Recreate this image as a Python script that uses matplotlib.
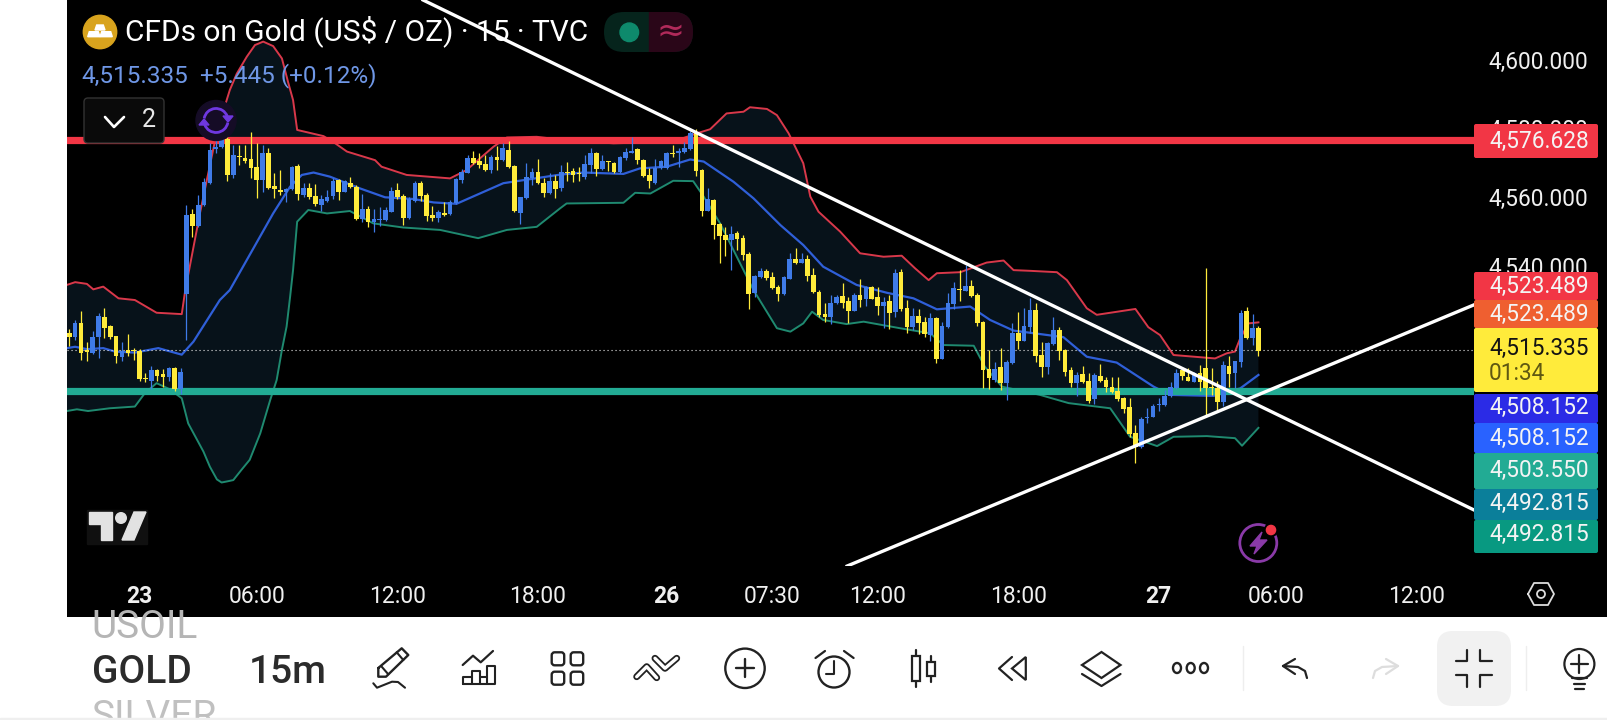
import numpy as np
import matplotlib
matplotlib.use("Agg")
import matplotlib.pyplot as plt
from matplotlib.patches import Rectangle, FancyBboxPatch, Circle, Polygon, Arc, Ellipse

plt.rcParams["font.family"] = ["Roboto", "DejaVu Sans"]

# 15m candles, oldest first
opens = [
    4520.3, 4519.1, 4523.2, 4515.5, 4514.5, 4519.1, 4525.0, 4522.3, 4519.4, 4513.5,
    4515.5, 4515.4, 4515.2, 4507.3, 4506.5, 4509.7, 4508.5, 4507.7, 4510.3, 4504.0,
    4531.8, 4555.0, 4551.5, 4557.6, 4564.1, 4574.0, 4574.4, 4577.0, 4566.4, 4571.9,
    4571.3, 4570.9, 4568.8, 4564.9, 4572.7, 4563.1, 4562.0, 4561.3, 4562.3, 4569.0,
    4560.6, 4562.5, 4560.2, 4557.6, 4558.8, 4560.4, 4564.9, 4561.5, 4564.2, 4563.0,
    4553.6, 4556.5, 4552.7, 4553.3, 4553.3, 4555.7, 4562.0, 4560.3, 4553.8, 4558.9,
    4564.1, 4560.6, 4554.7, 4554.0, 4555.2, 4555.0, 4558.1, 4564.9, 4567.1, 4571.3,
    4570.4, 4569.6, 4567.9, 4571.7, 4570.7, 4573.8, 4569.0, 4555.4, 4559.6, 4565.6,
    4567.2, 4564.2, 4561.2, 4564.6, 4562.7, 4567.3, 4567.5, 4566.9, 4565.7, 4569.3,
    4572.9, 4568.1, 4570.6, 4569.9, 4567.3, 4571.3, 4572.9, 4573.9, 4570.7, 4566.3,
    4564.2, 4568.3, 4568.4, 4572.7, 4572.7, 4573.1, 4574.0, 4578.9, 4567.9, 4556.0,
    4559.2, 4552.1, 4548.9, 4547.5, 4549.6, 4548.1, 4543.4, 4531.9, 4536.8, 4538.4,
    4536.7, 4533.9, 4531.8, 4536.2, 4541.9, 4540.9, 4541.9, 4537.3, 4532.4, 4525.9,
    4525.2, 4529.0, 4531.1, 4529.7, 4526.9, 4531.4, 4530.2, 4533.8, 4530.8, 4528.4,
    4529.6, 4526.4, 4538.1, 4527.6, 4522.2, 4525.3, 4523.7, 4519.8, 4524.7, 4512.8,
    4522.2, 4528.8, 4533.3, 4532.7, 4534.0, 4531.5, 4523.6, 4509.8, 4506.7, 4510.6,
    4505.9, 4511.6, 4520.3, 4518.2, 4522.2, 4527.1, 4514.0, 4510.6, 4517.2, 4521.3,
    4515.5, 4509.7, 4505.8, 4508.5, 4506.5, 4501.1, 4507.9, 4506.6, 4504.7, 4503.5,
    4501.6, 4498.9, 4491.2, 4487.2, 4495.6, 4496.1, 4499.4, 4499.5, 4502.1, 4504.3,
    4509.5, 4507.5, 4506.2, 4508.7, 4510.1, 4504.7, 4504.5, 4500.3, 4510.8, 4508.9,
    4512.1, 4526.8, 4519.0, 4521.9,
]
closes = [
    4519.1, 4523.2, 4514.7, 4515.0, 4519.1, 4525.4, 4522.0, 4519.1, 4513.7, 4515.2,
    4514.7, 4515.1, 4507.0, 4507.0, 4509.7, 4507.9, 4507.7, 4510.2, 4504.2, 4509.1,
    4554.7, 4551.5, 4557.6, 4564.4, 4573.7, 4574.6, 4576.8, 4566.4, 4572.1, 4571.5,
    4570.6, 4568.5, 4564.9, 4572.9, 4562.5, 4562.3, 4561.5, 4562.3, 4568.8, 4560.8,
    4562.6, 4560.1, 4558.0, 4559.3, 4560.1, 4564.6, 4561.5, 4564.6, 4562.9, 4553.6,
    4556.4, 4552.6, 4553.5, 4553.6, 4556.2, 4561.7, 4560.1, 4553.8, 4559.3, 4564.0,
    4560.3, 4554.5, 4554.0, 4555.6, 4554.8, 4558.6, 4565.2, 4567.3, 4571.3, 4570.0,
    4569.3, 4567.9, 4571.7, 4570.8, 4574.2, 4568.8, 4556.0, 4559.9, 4565.9, 4567.2,
    4564.0, 4561.2, 4564.6, 4562.3, 4567.2, 4567.1, 4566.4, 4566.6, 4569.5, 4572.7,
    4568.2, 4570.5, 4570.3, 4567.3, 4571.6, 4573.1, 4573.4, 4570.7, 4566.1, 4564.6,
    4568.5, 4570.5, 4572.7, 4572.4, 4573.4, 4574.3, 4578.7, 4567.6, 4555.9, 4559.3,
    4551.8, 4548.7, 4547.5, 4549.1, 4547.8, 4543.1, 4531.8, 4537.0, 4538.4, 4536.3,
    4533.4, 4531.8, 4536.7, 4541.9, 4540.7, 4541.9, 4537.0, 4532.2, 4525.6, 4525.0,
    4529.0, 4530.9, 4529.2, 4526.9, 4531.4, 4530.0, 4533.7, 4530.4, 4528.3, 4529.3,
    4526.1, 4537.8, 4527.3, 4522.2, 4525.3, 4523.4, 4520.1, 4524.7, 4512.8, 4522.5,
    4529.0, 4533.4, 4533.0, 4534.0, 4531.3, 4523.4, 4509.6, 4507.2, 4510.0, 4505.9,
    4512.0, 4520.3, 4518.2, 4522.4, 4527.1, 4513.7, 4510.6, 4517.4, 4521.3, 4515.2,
    4509.1, 4505.8, 4508.2, 4506.1, 4500.7, 4508.2, 4506.3, 4504.6, 4503.1, 4501.1,
    4498.3, 4490.9, 4487.2, 4495.4, 4496.0, 4499.3, 4499.8, 4502.1, 4504.6, 4508.7,
    4507.9, 4506.5, 4508.7, 4506.2, 4504.3, 4504.3, 4500.3, 4511.1, 4508.4, 4512.3,
    4526.3, 4519.0, 4521.9, 4515.3,
]
highs = [
    4521.5, 4524.2, 4526.7, 4517.9, 4521.0, 4526.1, 4527.7, 4522.7, 4519.5, 4517.9,
    4520.1, 4516.0, 4515.7, 4508.9, 4510.8, 4510.0, 4509.8, 4510.6, 4510.5, 4510.1,
    4557.6, 4556.4, 4560.6, 4565.4, 4575.6, 4577.0, 4579.0, 4578.0, 4575.1, 4575.1,
    4575.1, 4579.0, 4575.8, 4575.1, 4574.1, 4566.9, 4567.9, 4562.6, 4569.0, 4569.6,
    4564.0, 4564.2, 4563.7, 4560.6, 4562.0, 4565.4, 4565.2, 4564.9, 4565.7, 4563.5,
    4560.8, 4557.4, 4556.5, 4557.0, 4557.2, 4562.8, 4564.2, 4560.9, 4560.1, 4564.7,
    4564.7, 4561.2, 4557.5, 4556.2, 4558.6, 4559.1, 4565.4, 4568.0, 4572.2, 4573.5,
    4572.7, 4572.2, 4572.2, 4574.8, 4575.6, 4576.4, 4569.2, 4560.1, 4569.8, 4568.3,
    4571.0, 4565.4, 4566.9, 4566.4, 4569.3, 4570.1, 4568.3, 4568.6, 4572.2, 4574.1,
    4573.2, 4572.2, 4570.6, 4570.3, 4571.9, 4574.1, 4577.3, 4574.1, 4571.0, 4568.3,
    4570.9, 4570.7, 4573.2, 4575.1, 4574.1, 4576.1, 4579.3, 4579.7, 4568.1, 4562.5,
    4559.5, 4552.5, 4551.3, 4551.5, 4550.1, 4548.9, 4543.9, 4537.3, 4539.2, 4538.9,
    4538.2, 4534.4, 4537.0, 4543.6, 4545.0, 4543.6, 4543.1, 4539.2, 4532.9, 4529.0,
    4531.5, 4531.5, 4535.1, 4530.8, 4532.1, 4536.0, 4534.1, 4534.2, 4533.7, 4531.0,
    4531.6, 4538.9, 4539.0, 4530.0, 4527.6, 4527.4, 4525.0, 4526.1, 4525.2, 4523.7,
    4531.9, 4535.3, 4538.7, 4540.2, 4535.8, 4532.1, 4524.0, 4515.5, 4512.1, 4515.9,
    4512.5, 4523.4, 4526.6, 4527.6, 4530.5, 4529.0, 4517.9, 4517.9, 4525.0, 4522.1,
    4515.7, 4510.4, 4509.2, 4510.8, 4508.7, 4508.9, 4511.3, 4507.7, 4507.5, 4507.5,
    4501.9, 4501.6, 4493.6, 4496.1, 4498.5, 4499.8, 4501.4, 4503.8, 4506.0, 4509.9,
    4510.6, 4510.1, 4509.2, 4511.1, 4539.2, 4510.1, 4506.3, 4512.4, 4513.7, 4512.3,
    4527.1, 4528.1, 4526.0, 4522.5,
]
lows = [
    4516.6, 4518.4, 4512.6, 4512.4, 4514.3, 4513.0, 4518.9, 4518.6, 4511.8, 4512.3,
    4513.7, 4512.6, 4506.5, 4506.2, 4504.2, 4506.4, 4504.8, 4506.4, 4503.6, 4502.7,
    4518.4, 4548.2, 4551.3, 4557.3, 4563.9, 4572.9, 4574.1, 4564.7, 4565.4, 4569.3,
    4569.8, 4565.4, 4559.7, 4561.5, 4562.2, 4559.6, 4560.7, 4558.4, 4562.0, 4559.1,
    4560.1, 4559.4, 4557.5, 4556.0, 4558.4, 4559.4, 4559.1, 4561.3, 4562.5, 4553.3,
    4552.8, 4551.3, 4549.9, 4551.5, 4553.1, 4555.5, 4559.4, 4551.8, 4553.6, 4558.5,
    4558.8, 4553.1, 4553.1, 4552.8, 4554.4, 4554.8, 4557.9, 4564.0, 4566.9, 4569.6,
    4568.3, 4567.6, 4566.9, 4567.9, 4570.5, 4568.5, 4555.7, 4552.1, 4559.4, 4563.5,
    4563.8, 4559.9, 4561.0, 4559.6, 4561.8, 4564.7, 4564.4, 4564.6, 4565.2, 4567.1,
    4566.1, 4567.9, 4567.6, 4567.1, 4567.1, 4570.7, 4572.7, 4569.5, 4565.8, 4562.7,
    4563.9, 4568.1, 4568.2, 4571.7, 4568.8, 4572.7, 4573.7, 4566.1, 4554.5, 4555.8,
    4547.9, 4540.7, 4542.8, 4538.7, 4544.6, 4541.6, 4527.4, 4531.0, 4536.5, 4535.8,
    4533.1, 4529.7, 4531.6, 4536.0, 4540.5, 4540.7, 4535.5, 4531.9, 4525.2, 4523.5,
    4522.9, 4528.8, 4527.8, 4523.4, 4526.7, 4528.1, 4528.3, 4530.2, 4525.6, 4521.8,
    4521.5, 4525.0, 4526.9, 4520.3, 4521.3, 4520.0, 4519.3, 4518.2, 4511.8, 4512.7,
    4522.0, 4527.3, 4529.7, 4532.5, 4531.0, 4522.5, 4504.3, 4504.0, 4506.2, 4503.8,
    4500.9, 4511.4, 4515.7, 4518.0, 4520.3, 4512.1, 4507.7, 4508.4, 4516.9, 4512.6,
    4507.9, 4504.8, 4502.1, 4505.8, 4500.0, 4499.8, 4506.0, 4503.1, 4502.9, 4500.7,
    4497.0, 4490.2, 4482.7, 4486.9, 4494.3, 4495.9, 4497.8, 4499.3, 4501.9, 4504.1,
    4506.7, 4506.3, 4506.0, 4503.6, 4496.6, 4502.4, 4497.8, 4499.3, 4504.6, 4504.3,
    4510.6, 4518.6, 4516.9, 4513.7,
]

# Bollinger bands, read at the bars where they bend
upper_bars = [-0.4, 1, 3, 4.1, 5.8, 8.4, 11.2, 14.9, 19.2, 19.8, 22.3, 25.2, 27.4, 28.6, 30.3, 31.7, 33.1,
              34.8, 36.3, 37.4, 38.2, 38.9, 43.4, 45.4, 47.4, 52.2, 53.3, 57.6, 65, 67.8, 72.4, 74.7, 79.8, 83.8,
              92.9, 103.1, 107.1, 109.4, 112.2, 115.1, 116.2, 119.1, 120.8, 122.8, 125.3, 126.5,
              127.9, 131.6, 135, 139, 142.1, 144.4, 146.7, 148.1, 152.1, 156.6, 159.5, 161.2, 164,
              168.6, 170.3, 173.7, 175.4, 182, 184.2, 186.2, 188.5, 195.6, 197.6, 199, 199.9, 201.3, 203]
upper_vals = [4534.4, 4535.2, 4534.7, 4533.1, 4533.9, 4530.5, 4530.0, 4526.3, 4525.9, 4532.9, 4555.2,
              4579.0, 4591.1, 4595.9, 4600.8, 4604.2, 4605.2, 4603.9, 4600.3, 4593.1, 4588.2, 4579.5,
              4577.7, 4575.6, 4573.2,
              4570.7, 4568.8, 4566.4, 4565.4, 4567.8, 4574.6, 4577.3, 4577.5, 4576.7, 4575.6, 4576.1,
              4578.5, 4579.7, 4584.3, 4584.8, 4586.1, 4585.6, 4583.8, 4578.5, 4569.8, 4560.1, 4555.7,
              4549.9, 4543.6, 4542.6, 4542.9, 4539.2, 4535.8, 4537.8, 4538.1, 4540.9, 4541.5, 4538.7,
              4538.5, 4538.1, 4535.8, 4527.6, 4525.7, 4527.4, 4522.1, 4519.8, 4514.0, 4513.0, 4514.5,
              4515.0, 4518.9, 4523.2, 4523.5]
basis_bars = [-0.4, 1, 3, 5.8, 7.8, 11.2, 15.2, 19.2, 21.2, 25.7, 27.4, 34.8, 37.7, 39.7, 41.7, 44.5,
              49.6, 53.9, 58.7, 62.2, 66.1, 74.1, 83.8, 87.8, 94.6, 97.4, 102, 106, 108.3, 113.4,
              116.8, 121.4, 125.3, 128.7, 134.4, 139.6, 144.1, 148.1, 153.8, 157.2, 161.2, 165.7,
              169.7, 173.7, 178.8, 185.1, 187.9, 195.3, 199.9, 203]
basis_vals = [4516.0, 4516.4, 4515.7, 4516.0, 4515.0, 4514.7, 4516.0, 4514.1, 4517.9, 4530.0, 4532.9,
              4555.2, 4563.0, 4566.4, 4567.1, 4565.9, 4562.5, 4559.9, 4559.4, 4558.4, 4558.0, 4564.0,
              4566.5, 4567.1, 4566.7, 4568.3, 4568.8, 4570.9, 4570.3, 4564.4, 4559.6, 4551.8, 4546.0,
              4539.7, 4534.4, 4532.1, 4530.5, 4527.3, 4528.1, 4524.2, 4521.1, 4520.1, 4519.2, 4513.5,
              4511.8, 4504.8, 4502.4, 4502.1, 4504.3, 4508.2]
lower_bars = [-0.4, 1.3, 3.2, 6.9, 11.2, 12.9, 14.9, 17.2, 19.2, 20.3, 22.9, 24, 25.2, 26, 26.9, 28, 29.4, 30.8,
              32.6, 34.3, 35.4, 36.3, 37.1,
              37.7, 38.2, 38.9, 40.8, 44, 47.9, 51.9, 57, 63.3, 69.8, 74.7, 79.8, 83.8, 84.9, 94.6,
              96.6, 99.2, 103.1, 106.5, 108.3, 111.1, 116.8, 120.8, 123.1, 125.3, 126.8, 128.7, 132.7,
              135.6, 141.8, 147, 149.2, 154.4, 156.3, 159.2, 165.7, 170.6, 177.7, 181.1, 185.7, 188.5,
              194.2, 199, 200.2, 203]
lower_vals = [4497.7, 4498.2, 4497.7, 4498.5, 4499.0, 4502.9, 4505.8, 4504.0, 4501.4, 4494.1, 4485.9,
              4481.5, 4477.8, 4476.9, 4477.2, 4477.6, 4480.6, 4483.5, 4491.2, 4500.9, 4506.7, 4515.5,
              4522.3, 4531.0, 4538.7, 4552.8, 4556.2, 4555.2, 4555.9,
              4552.3, 4551.1, 4550.4, 4548.0, 4550.4, 4551.3, 4556.7, 4558.1, 4558.3, 4561.2, 4561.0,
              4564.7, 4564.6, 4560.1, 4552.3, 4532.9, 4521.8, 4520.8, 4523.2, 4526.6, 4524.2, 4523.0,
              4523.7, 4521.8, 4520.3, 4516.9, 4516.7, 4510.6, 4504.8, 4502.4, 4500.0, 4498.5, 4490.2,
              4487.5, 4490.2, 4490.4, 4489.8, 4487.6, 4492.8]

# drawn levels and trend lines
resistance = 4576.628
support = 4503.55
last_price = 4515.335
falling_bars, falling_vals = [60.4, 239.8], [4617.3, 4468.9]
rising_bars, rising_vals = [132.8, 239.8], [4452.6, 4528.6]

price_ticks = [4600, 4580, 4560, 4540]
time_ticks = [12, 32, 56, 80, 102, 120, 138, 162, 186, 206, 230]
time_labels = ["23", "06:00", "12:00", "18:00", "26", "07:30", "12:00", "18:00", "27", "06:00", "12:00"]
bold_labels = ["23", "26", "27"]

# price scale tags: text, box top, box bottom, text centre, box colour
tags = [
    ("4,576.628", 124, 158, 141, "#f23645"),
    ("4,523.489", 272, 300, 286, "#f23645"),
    ("4,523.489", 300, 328, 314, "#ef5f30"),
    ("4,508.152", 394, 423, 407, "#2b2be6"),
    ("4,508.152", 423, 453, 438, "#2962ff"),
    ("4,503.550", 453, 489, 470, "#22ab94"),
    ("4,492.815", 489, 520, 503, "#0b7f9a"),
    ("4,492.815", 520, 553, 534, "#089981"),
]

W, H = 1608, 720
fig = plt.figure(figsize=(W / 100, H / 100), dpi=100, facecolor="white")

back = fig.add_axes([67 / W, (H - 617) / H, (W - 67) / W, 617 / H], zorder=0)
back.set_facecolor("black")
back.set_xticks([])
back.set_yticks([])
for s in back.spines.values():
    s.set_visible(False)

ax = fig.add_axes([67 / W, (H - 566) / H, (1474 - 67) / W, 566 / H], zorder=1)
ax.set_facecolor("black")
ax.set_xlim(-0.39, 239.8)
ax.set_ylim(4452.6, 4617.31)
for s in ax.spines.values():
    s.set_visible(False)

bars = np.arange(len(opens))
o, c, hi, lo = map(np.array, (opens, closes, highs, lows))

ax.fill(np.r_[upper_bars, lower_bars[::-1]], np.r_[upper_vals, lower_vals[::-1]],
        color="#07121a", lw=0, zorder=1)
ax.plot(upper_bars, upper_vals, color="#d9384a", lw=1.4, zorder=2)
ax.plot(basis_bars, basis_vals, color="#2f5fd8", lw=1.6, zorder=2)
ax.plot(lower_bars, lower_vals, color="#1f8a70", lw=1.4, zorder=2)

ax.axhline(last_price, color="#e8e8e8", lw=0.8, ls=(0, (1, 2.6)), zorder=2)
ax.axhline(resistance, color="#f23645", lw=5.2, zorder=3)
ax.axhline(support, color="#22ab94", lw=5.2, zorder=3)

up = c >= o
colors = np.where(up, "#3f7be8", "#ffeb3b")
ax.vlines(bars, lo, hi, colors=colors, lw=0.9, zorder=4)
ax.bar(bars, np.abs(c - o), bottom=np.minimum(o, c), width=0.8, color=colors, lw=0, zorder=5)

ax.plot(falling_bars, falling_vals, color="white", lw=2.4, zorder=6)
ax.plot(rising_bars, rising_vals, color="white", lw=2.4, zorder=6)

ax.yaxis.tick_right()
ax.set_yticks(price_ticks)
ax.set_yticklabels([f"{p:,.3f}" for p in price_ticks], fontsize=16.3, color="#f0f0f0")
ax.tick_params(axis="y", length=0, pad=10.5)
ax.set_xticks(time_ticks)
ax.set_xticklabels(time_labels, fontsize=16.5, color="#f0f0f0")
ax.tick_params(axis="x", length=0, pad=13.5)
for t in ax.get_xticklabels():
    if t.get_text() in bold_labels:
        t.set_fontweight("bold")

# screen furniture, in screenshot pixels
ui = fig.add_axes([0, 0, 1, 1], zorder=5)
ui.set_xlim(0, W)
ui.set_ylim(H, 0)
ui.axis("off")


def line(pts, color="#222222", lw=1.6, **kw):
    xs, ys = zip(*pts)
    ui.plot(xs, ys, color=color, lw=lw, solid_capstyle="round", solid_joinstyle="round", **kw)


def box(x0, y0, x1, y1, color, r=3, ec="none", lw=0):
    p = FancyBboxPatch((x0 + r, y0 + r), x1 - x0 - 2 * r, y1 - y0 - 2 * r,
                       boxstyle=f"round,pad={r},rounding_size={r}", fc=color, ec=ec, lw=lw)
    ui.add_patch(p)
    return p


# legend block
ui.add_patch(Circle((100, 32), 16.7, color="#d8a31d"))
for poly in ([(96.7, 25), (103.3, 25), (105, 30), (95, 30)],
             [(89.3, 31.7), (98.3, 31.7), (100, 36.7), (87.7, 36.7)],
             [(101.7, 31.7), (110.7, 31.7), (112.3, 36.7), (100, 36.7)]):
    ui.add_patch(Polygon(poly, color="white"))
ui.text(125, 31.5, "CFDs on Gold (US$ / OZ) · 15 · TVC", color="white", fontsize=21.5, va="center")
ui.text(81.5, 76, "4,515.335", color="#6f97e6", fontsize=17.5, va="center")
ui.text(200, 76, "+5.445 (+0.12%)", color="#6f97e6", fontsize=17.5, va="center")
pill = box(604, 12, 693, 52, "#06241c", r=20)
red_half = Rectangle((649.5, 12), 44, 40, color="#2a0618", zorder=pill.get_zorder() + 0.1)
ui.add_patch(red_half)
red_half.set_clip_path(pill)
ui.add_patch(Circle((629.3, 32.3), 9.3, color="#0e8a6c", zorder=3))
ui.text(670, 31, "≈", color="#b02a5a", fontsize=24, ha="center", va="center", family=["DejaVu Sans"], zorder=3)
box(84, 98, 164, 143, "#0a0a0a", r=4, ec="#333333", lw=1)
line([(105, 117), (114, 127), (124, 117)], color="white", lw=1.9)
ui.text(149, 120, "2", color="#e8e8e8", fontsize=18, ha="center", va="center")
ui.add_patch(Circle((216, 120.5), 20, color="#150c26"))
ui.add_patch(Arc((216, 120.5), 24, 24, theta1=190, theta2=340, color="#6f38e0", lw=2))
ui.add_patch(Arc((216, 120.5), 24, 24, theta1=10, theta2=160, color="#6f38e0", lw=2))
ui.add_patch(Polygon([(223, 116), (233, 116), (228, 122)], color="#6f38e0"))
ui.add_patch(Polygon([(199, 125), (209, 125), (204, 119)], color="#6f38e0"))

# TradingView mark
ui.add_patch(Rectangle((87, 510), 60, 34, color="#101010"))
ui.add_patch(Polygon([(89, 512), (112, 512), (112, 540), (101, 540), (101, 524), (89, 524)], color="#e2e2e2"))
ui.add_patch(Circle((121, 518), 5.3, color="#e2e2e2"))
ui.add_patch(Polygon([(134, 512), (146, 512), (134, 540), (122, 540)], color="#e2e2e2"))

# alert button
ui.add_patch(Circle((1258.3, 543), 18.5, fc="none", ec="#8a3aa8", lw=2))
ui.add_patch(Polygon([(1262, 532), (1250, 546), (1257, 546), (1254, 554), (1267, 540), (1259, 540)], color="#8a3aa8"))
ui.add_patch(Circle((1271, 530), 6.5, color="black"))
ui.add_patch(Circle((1271, 530), 4.6, color="#f23645"))

# price scale tags
for text, y0, y1, yt, col in tags:
    box(1474, y0, 1598, y1, col, r=2)
    ui.text(1489, yt, text, color="#f4f4f4", fontsize=16.3, va="center")
box(1474, 328, 1598, 392, "#ffeb3b", r=2)
ui.text(1489, 348, "4,515.335", color="#131313", fontsize=16.3, va="center")
ui.text(1489, 374, "01:34", color="#5f5812", fontsize=16.3, va="center")

# chart settings hexagon
line([(1528, 594), (1534, 583), (1548, 583), (1554, 594), (1548, 605), (1534, 605), (1528, 594)],
     color="#dddddd", lw=1.3)
ui.add_patch(Circle((1541, 594), 4, fc="none", ec="#dddddd", lw=1.3))

# bottom toolbar, symbol wheel cut off by the chart and the screen edge
wheel_clip = Rectangle((0, 617), W, 101, transform=ui.transData)
for label, y, col in (("USOIL", 638.3, "#b5b5b5"), ("SILVER", 727.7, "#c0c0c0")):
    t = ui.text(91.5, y, label, color=col, fontsize=28, va="baseline")
    t.set_clip_path(wheel_clip)
ui.text(92, 682.7, "GOLD", color="#2b2b2b", fontsize=28, weight="medium", va="baseline")
ui.text(249, 682.7, "15m", color="#2b2b2b", fontsize=28, weight="medium", va="baseline")
ui.add_patch(Rectangle((0, 718), W, 2, color="#efefef", zorder=3))

# pencil
line([(378.3, 668), (401.7, 648.3), (408.3, 655), (386, 676.7), (378.3, 676.7), (378.3, 668)], lw=1.7)
line([(396.7, 652.3), (403.3, 660)], lw=1.5)
line([(381.7, 666.7), (388.3, 674.3)], lw=1.5)
line([(373.3, 683.3), (377, 687.7), (392, 681.7), (398, 682), (405, 687.7)], lw=1.5)
# indicators
line([(462.7, 665), (473, 655.7), (480.7, 662.3), (493, 651)], lw=1.6)
line([(463.3, 684.3), (463.3, 676.7), (471.7, 676.7), (471.7, 671), (480, 671), (480, 676.7), (487.3, 676.7),
      (487.3, 665.7), (495, 665.7), (495, 684.3), (463.3, 684.3)], lw=1.5)
line([(471.7, 676.7), (471.7, 684.3)], lw=1.5)
line([(480, 676.7), (480, 684.3)], lw=1.5)
line([(487.3, 676.7), (487.3, 684.3)], lw=1.5)
# layouts
for x0 in (551.7, 570.7):
    for y0 in (652.3, 671.7):
        ui.add_patch(FancyBboxPatch((x0 + 3, y0 + 3), 6.5, 7, boxstyle="round,pad=3", fc="none", ec="#222222", lw=1.7))
# drawing tools
for pts in ([(636.7, 676.7), (646.7, 666.7), (656.7, 677.7)], [(655, 658.3), (665, 668.3), (676.7, 658.3)]):
    line(pts, color="#222222", lw=5)
    line(pts, color="white", lw=2.4)
# add
ui.add_patch(Circle((745, 668.3), 19.7, fc="none", ec="#222222", lw=1.7))
line([(736, 668.3), (754, 668.3)], lw=1.7)
line([(745, 659.3), (745, 677.3)], lw=1.7)
# alarm
ui.add_patch(Circle((834, 672), 15.5, fc="none", ec="#222222", lw=1.7))
line([(834, 661), (834, 674), (826, 674)], lw=1.5)
line([(815.5, 658), (825, 651)], lw=1.6)
line([(844, 651), (853.6, 658)], lw=1.6)
# candles
for x, y0, y1, w0, w1 in ((916.5, 656, 681, 650, 687), (931.4, 662, 676, 656, 682)):
    line([(x, w0), (x, w1)], lw=1.6)
    ui.add_patch(Rectangle((x - 4, y0), 8, y1 - y0, fc="white", ec="#222222", lw=1.6, zorder=3))
# replay
line([(1012, 657), (999, 668.5), (1012, 680)], lw=1.6)
ui.add_patch(Polygon([(1025.8, 657), (1012, 668.5), (1025.8, 680)], fc="none", ec="#222222", lw=1.6))
# layers
ui.add_patch(Polygon([(1101.5, 652), (1120.5, 665), (1101.5, 678), (1082, 665)], fc="none", ec="#222222", lw=1.6))
line([(1082, 674), (1101.5, 686), (1120.5, 674)], lw=1.6)
# more
for x in (1177, 1190.7, 1204):
    ui.add_patch(Ellipse((x, 668), 8, 10, fc="none", ec="#222222", lw=1.7))
line([(1243, 646), (1243, 690)], color="#eeeeee", lw=1)
# undo, redo
line([(1295, 659), (1283, 666), (1295, 674)], lw=1.6)
line([(1283, 666), (1298, 667), (1305, 671), (1307, 678)], lw=1.6)
line([(1386, 659), (1398, 666), (1386, 674)], color="#dddddd", lw=1.6)
line([(1398, 666), (1382, 667), (1375, 671), (1373, 678)], color="#dddddd", lw=1.6)
# collapse
box(1437, 631, 1511, 706, "#f1f1f1", r=16)
line([(1455.7, 660.7), (1467.5, 660.7), (1467.5, 650)], lw=1.6)
line([(1480.5, 650), (1480.5, 660.7), (1492.3, 660.7)], lw=1.6)
line([(1455.7, 675), (1467.5, 675), (1467.5, 687)], lw=1.6)
line([(1480.5, 687), (1480.5, 675), (1492.3, 675)], lw=1.6)
line([(1525.8, 646), (1525.8, 690)], color="#eeeeee", lw=1)
# ideas bulb
ui.add_patch(Circle((1579.4, 664), 15, fc="none", ec="#222222", lw=1.6))
line([(1571, 664), (1588, 664)], lw=1.6)
line([(1579.4, 655), (1579.4, 673)], lw=1.6)
line([(1572, 678), (1587, 678)], lw=1.6)
line([(1574, 684), (1585, 684)], lw=1.6)
line([(1575, 689), (1584, 689)], lw=1.6)

fig.savefig("out.png", dpi=100, facecolor="white")
